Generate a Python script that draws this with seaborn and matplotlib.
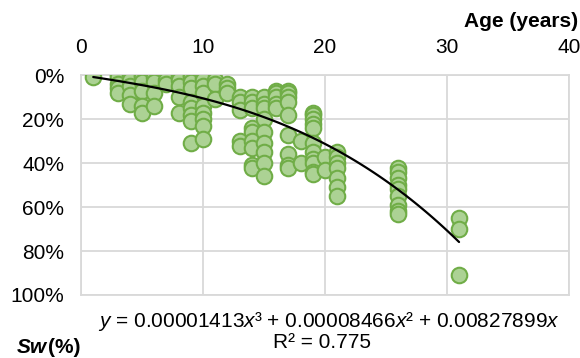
import numpy as np
import pandas as pd
import matplotlib
matplotlib.use("Agg")
import matplotlib.pyplot as plt
import seaborn as sns

# Age (years) and Sw (%), one column of points per age
age_cols = [1, 3, 4, 5, 6, 7, 8, 9, 10, 11, 12, 13, 14, 15, 16, 17, 18, 19, 20, 21, 26, 31]
sw_cols = [
    [1],
    [0, 1, 4, 6, 8],
    [0, 2, 5, 9, 13],
    [0, 1, 3, 7, 14, 17],
    [1, 3, 8, 14],
    [2, 4],
    [1, 2, 5, 10, 17],
    [0, 1, 3, 6, 12, 15, 18, 21, 31],
    [1, 2, 5, 8, 14, 17, 20, 23, 29],
    [2, 4, 11],
    [4, 6, 8],
    [10, 12, 16, 30, 32],
    [10, 12, 15, 24, 26, 30, 33, 41, 42],
    [10, 13, 15, 20, 26, 31, 35, 40, 46],
    [7, 8, 10, 13, 15],
    [7, 8, 10, 12, 18, 27, 36, 41, 42],
    [30, 40],
    [17, 18, 20, 22, 24, 31, 35, 38, 40, 44, 45],
    [37, 43],
    [35, 37, 40, 42, 47, 51, 55],
    [42, 44, 47, 50, 52, 55, 59, 62, 63],
    [65, 70, 91],
]

# trendline coefficients (from the equation on the chart)
c3, c2, c1 = 0.00001413, 0.00008466, 0.00827899
r2 = 0.775

ages = []
sws = []
for a, col in zip(age_cols, sw_cols):
    for s in col:
        ages.append(a)
        sws.append(s / 100)
df = pd.DataFrame({"age": ages, "sw": sws})

xt = np.linspace(1, 31, 100)
trend = pd.DataFrame({"age": xt, "sw": c3 * xt**3 + c2 * xt**2 + c1 * xt})

sns.set_style("white")
plt.rcParams["font.family"] = ["Liberation Sans", "DejaVu Sans"]
plt.rcParams["text.color"] = "black"
plt.rcParams["mathtext.fontset"] = "custom"
plt.rcParams["mathtext.rm"] = "Liberation Sans"
plt.rcParams["mathtext.it"] = "Liberation Sans:italic"
plt.rcParams["mathtext.bf"] = "Liberation Sans:bold"

fs = 15
fig = plt.figure(figsize=(5.8, 3.58), dpi=100)
ax = fig.add_axes([0.1397, 0.176, 0.841, 0.614])

sns.scatterplot(data=df, x="age", y="sw", ax=ax, s=125, color="#acd294",
                edgecolor="#70ad47", linewidth=1.5, zorder=3)
sns.lineplot(data=trend, x="age", y="sw", ax=ax, color="black", linewidth=1.6,
             zorder=4)

ax.set_xlim(0, 40)
ax.set_ylim(1, 0)
ax.set_xticks([0, 10, 20, 30, 40])
ax.set_yticks([0, 0.2, 0.4, 0.6, 0.8, 1.0])
ax.set_yticklabels(["0%", "20%", "40%", "60%", "80%", "100%"])
ax.xaxis.tick_top()
ax.tick_params(length=0, labelsize=fs, colors="black")
ax.tick_params(axis="x", pad=13)
ax.tick_params(axis="y", pad=12)
ax.grid(True, color="#d9d9d9", linewidth=1.3)
ax.set_axisbelow(True)
for sp in ax.spines.values():
    sp.set_color("#d9d9d9")
    sp.set_linewidth(1.3)
ax.set_xlabel("")
ax.set_ylabel("")

fig.text(0.997, 0.941, "Age (years)", ha="right", va="center", fontsize=fs,
         fontweight="bold", color="black")
fig.text(0.029, 0.028, "Sw", ha="left", va="center", fontsize=fs,
         fontweight="bold", fontstyle="italic", color="black")
fig.text(0.083, 0.028, "(%)", ha="left", va="center", fontsize=fs,
         fontweight="bold", color="black")
fig.text(0.567, 0.101,
         "$\\it{y}$ = 0.00001413$\\it{x}$³ + 0.00008466$\\it{x}$² + 0.00827899$\\it{x}$",
         ha="center", va="center", fontsize=fs, color="black")
fig.text(0.555, 0.042, f"R² = {r2}", ha="center", va="center", fontsize=fs,
         color="black")

fig.savefig("out.png", dpi=100)
